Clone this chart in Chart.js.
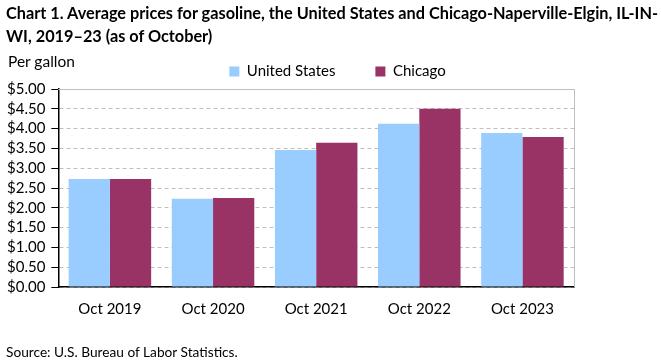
<!DOCTYPE html>
<html>
<head>
<meta charset="utf-8">
<script src="https://cdn.jsdelivr.net/npm/chart.js@4"></script>
<style>
  body { margin: 0; background: #fff; font-family: Lato, "Open Sans", sans-serif; }
  #wrap { position: relative; width: 661px; height: 361px; }
  #title { position: absolute; left: 6px; top: 1px; width: 655px; font-weight: bold; font-size: 16.3px; line-height: 23px; color: #000; white-space: nowrap; }
  #unit { position: absolute; left: 8px; top: 52px; font-size: 15.5px; color: #000; }
  #source { position: absolute; left: 6px; top: 343px; font-size: 13.7px; color: #000; }
  #chart { position: absolute; left: 0; top: 0; }
</style>
</head>
<body>
<div id="wrap">
  <canvas id="chart" width="661" height="361"></canvas>
  <div id="title">Chart 1. Average prices for gasoline, the United States and Chicago-Naperville-Elgin, IL-IN-<br>WI, 2019–23 (as of October)</div>
  <div id="unit">Per gallon</div>
  <div id="source">Source: U.S. Bureau of Labor Statistics.</div>
</div>
<script>
// Data
const categories = ['Oct 2019', 'Oct 2020', 'Oct 2021', 'Oct 2022', 'Oct 2023'];
const usPrices = [2.73, 2.23, 3.46, 4.12, 3.89];
const chicagoPrices = [2.73, 2.25, 3.64, 4.50, 3.79];

// Gray frame on the top and right of the plot area
const framePlugin = {
  id: 'frame',
  afterLayout(chart) {
    // move the legend a bit right, like the original
    chart.legend.left += 50;
    chart.legend.right += 50;
  },
  afterDraw(chart) {
    const { ctx, chartArea } = chart;
    ctx.save();
    ctx.strokeStyle = '#bfbfbf';
    ctx.lineWidth = 1;
    ctx.beginPath();
    ctx.moveTo(chartArea.left, chartArea.top + 0.5);
    ctx.lineTo(chartArea.right + 0.5, chartArea.top + 0.5);
    ctx.lineTo(chartArea.right + 0.5, chartArea.bottom);
    ctx.stroke();
    ctx.restore();
  }
};

const ctx = document.getElementById('chart').getContext('2d');
new Chart(ctx, {
  type: 'bar',
  data: {
    labels: categories,
    datasets: [{
      label: 'United States',
      data: usPrices,
      backgroundColor: '#99ccff',
      categoryPercentage: 0.8,
      barPercentage: 1
    }, {
      label: 'Chicago',
      data: chicagoPrices,
      backgroundColor: '#993366',
      categoryPercentage: 0.8,
      barPercentage: 1
    }]
  },
  options: {
    responsive: false,
    animation: false,
    layout: {
      padding: { top: 24, left: 1, right: 87, bottom: 30 }
    },
    scales: {
      x: {
        grid: { display: false, drawTicks: false },
        border: { color: '#000', width: 1.5 },
        ticks: {
          color: '#000',
          font: { family: 'Lato', size: 15 },
          padding: 13
        }
      },
      y: {
        min: 0,
        max: 5,
        ticks: {
          stepSize: 0.5,
          autoSkip: false,
          color: '#000',
          font: { family: 'Lato', size: 15 },
          padding: 6,
          callback: function(value) {
            return '$' + value.toFixed(2);
          }
        },
        grid: {
          color: '#bfbfbf',
          tickColor: '#000',
          tickLength: 7,
          tickBorderDash: []
        },
        border: { color: '#000', width: 1.5, dash: [4, 3] }
      }
    },
    plugins: {
      legend: {
        position: 'top',
        labels: {
          color: '#000',
          font: { family: 'Lato', size: 15 },
          boxWidth: 10,
          boxHeight: 10,
          padding: 40
        }
      },
      tooltip: { enabled: false }
    }
  },
  plugins: [framePlugin]
});
</script>
</body>
</html>
